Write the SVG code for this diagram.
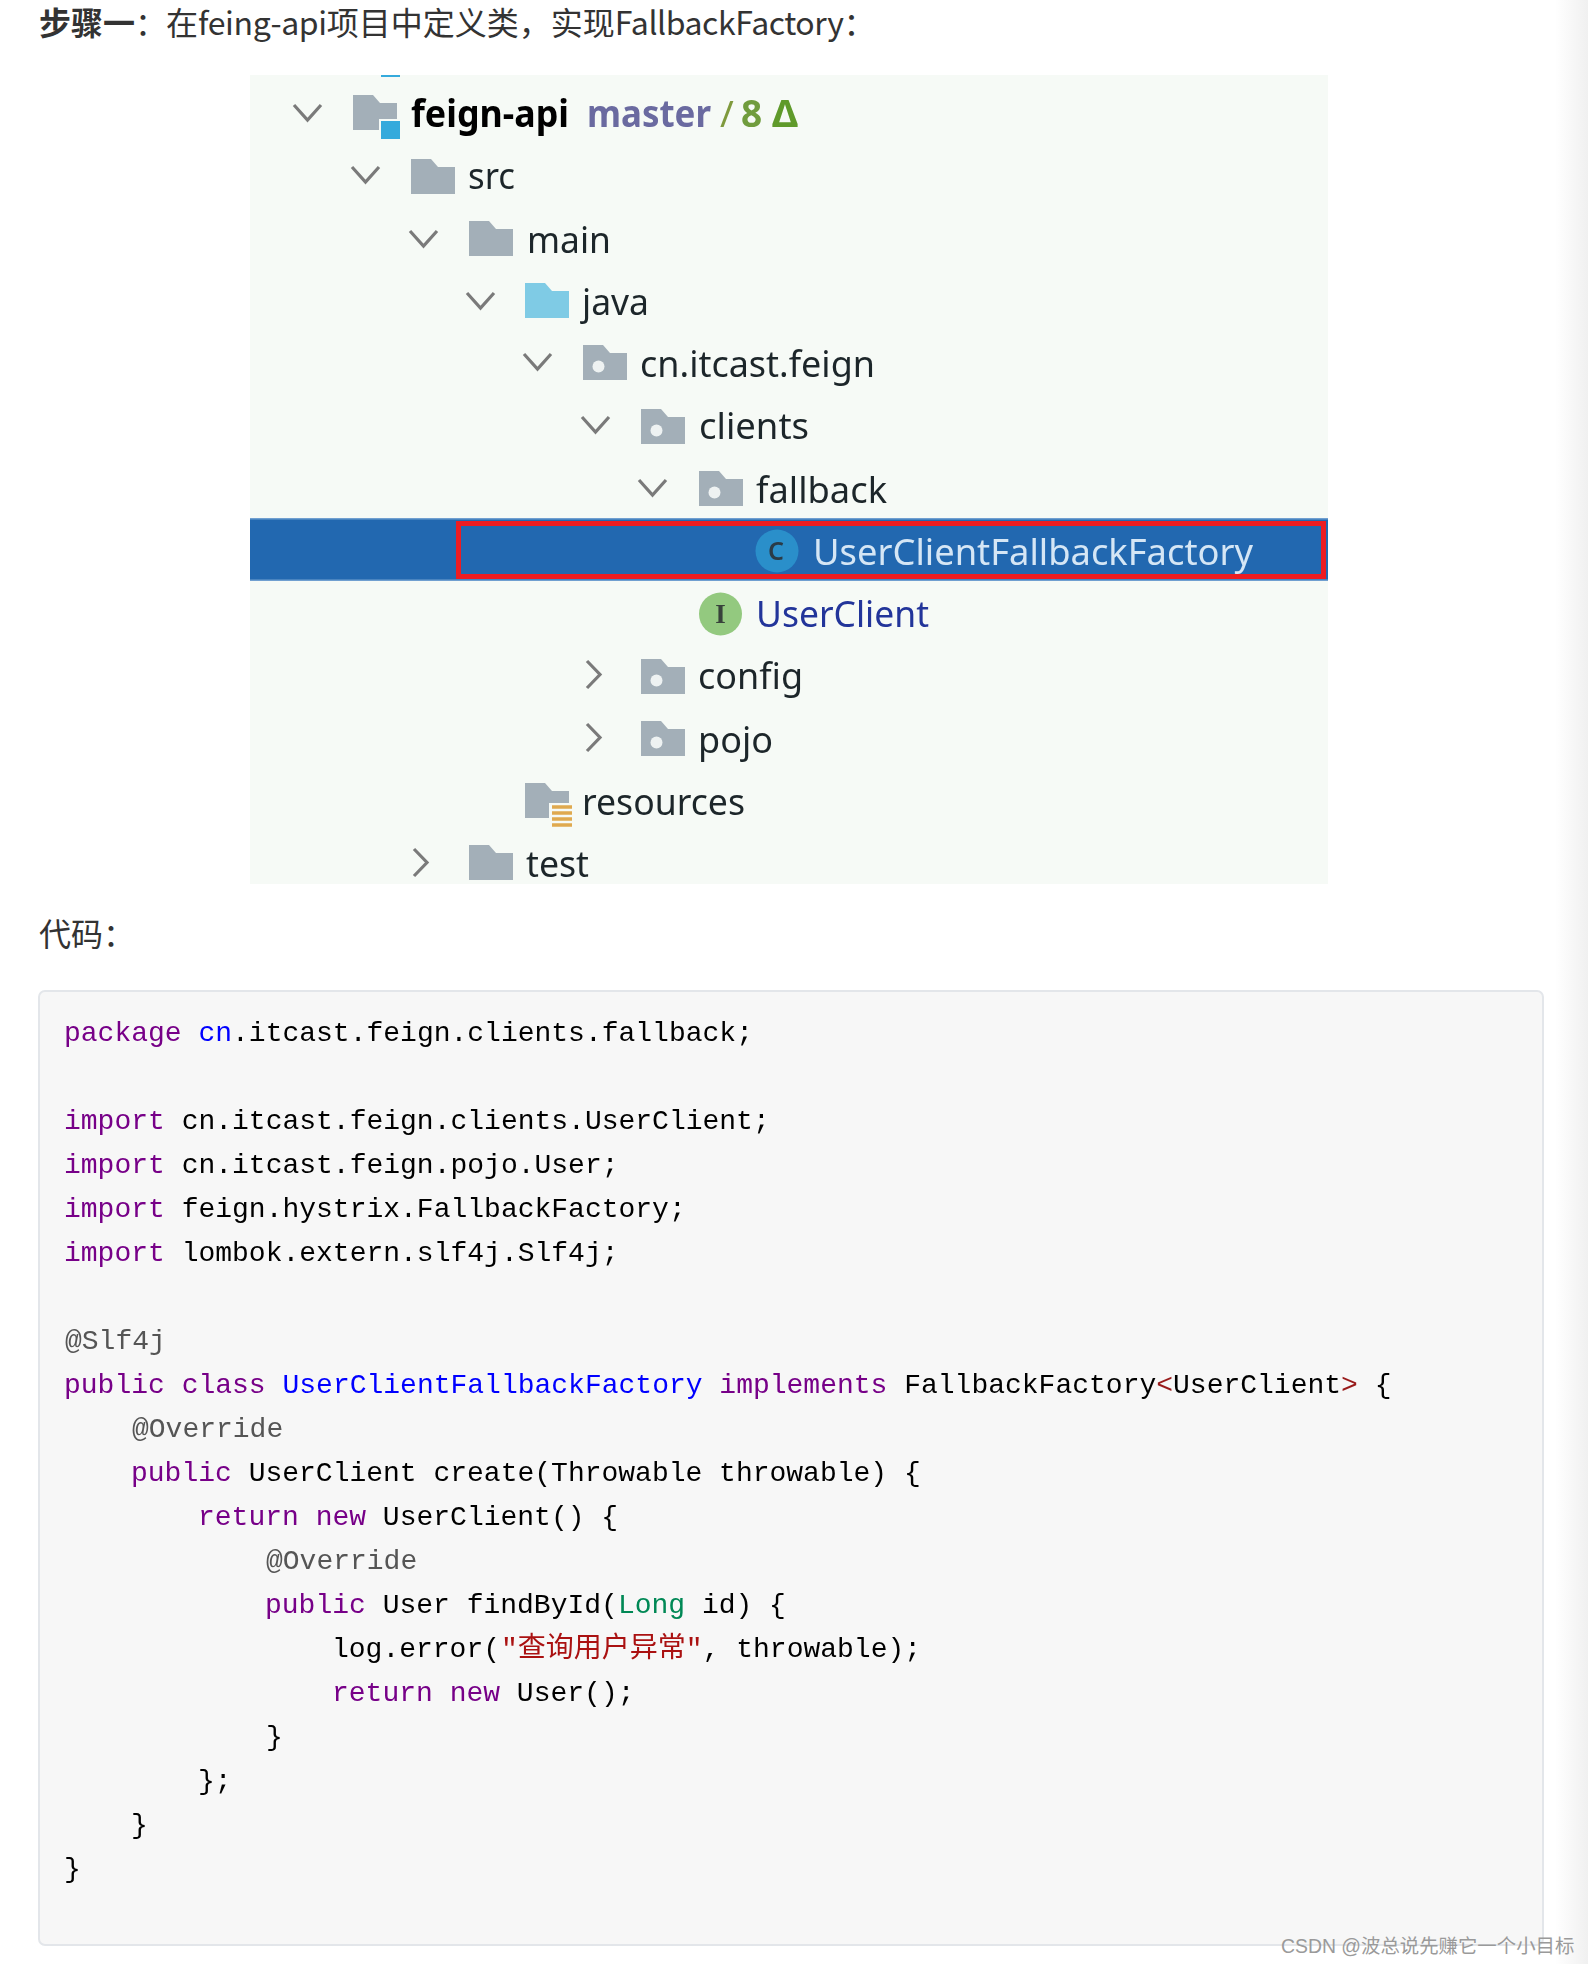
<svg xmlns="http://www.w3.org/2000/svg" width="1588" height="1964" viewBox="0 0 1588 1964">
<style>
.body{font-family:"Noto Sans CJK SC","Noto Sans",sans-serif;font-size:32px;fill:#333}
.tree{font-family:"Noto Sans","Open Sans",sans-serif;font-size:37px;fill:#1f272b}
.chev{fill:none;stroke:#7a7a7a;stroke-width:3.2}
.fold{fill:#a3afb8}
.dot{fill:#eef2f2}
.code{font-family:"Liberation Mono","Noto Sans CJK SC",monospace;font-size:28px;fill:#000;white-space:pre}
.k{fill:#770088}.d{fill:#0000ff}.t{fill:#008855}.s{fill:#aa1111}.m{fill:#555}.o{fill:#981a1a}
</style>
<defs>
<path id="folder" d="M0 0H20L27 8H44V35H0Z"/>
<path id="down" class="chev" d="M0 0L13.5 15L27 0"/>
<path id="right" class="chev" d="M0 0L13 13.5L0 27"/>
<g id="pkg"><use href="#folder" class="fold"/><circle class="dot" cx="15.500" cy="21.500" r="6"/></g>
<linearGradient id="edge" x1="0" x2="1" y1="0" y2="0"><stop offset="0" stop-color="#fff"/><stop offset="1" stop-color="#f0f0f0"/></linearGradient>
<filter id="soft" x="0" y="0" width="1" height="1"><feGaussianBlur stdDeviation="0.6"/></filter>
</defs>
<rect width="1588" height="1964" fill="#fff"/>
<rect x="1555" y="0" width="33" height="1964" fill="url(#edge)"/>
<text id="title" class="body" x="39" y="35"><tspan font-weight="700">步骤一</tspan>：<tspan dx="-1">在</tspan><tspan letter-spacing="-0.350">feing-api</tspan>项目中定义类，实现<tspan letter-spacing="-0.450">FallbackFactory</tspan>：</text>
<g id="tree" filter="url(#soft)">
<rect x="250" y="75" width="1078" height="809" fill="#f6faf6"/>
<rect x="381" y="75" width="19" height="2" fill="#35aadc"/>
<g id="row-feign-api">
<use href="#down" x="294" y="105"/>
<use href="#folder" x="353" y="95" class="fold"/>
<rect x="379" y="119" width="23" height="21" fill="#f6faf6"/>
<rect x="381" y="121" width="19" height="18" fill="#35aadc"/>
<text class="tree" x="411" y="127" font-weight="700" style="fill:#000" textLength="158" lengthAdjust="spacingAndGlyphs">feign-api</text>
<text class="tree" x="587" y="127" font-weight="700" style="fill:#6a6aa0" textLength="124" lengthAdjust="spacingAndGlyphs">master</text>
<text class="tree" x="720" y="127" style="fill:#7f9a3c">/</text>
<text class="tree" x="741" y="127" font-weight="700" style="fill:#6f9c3c">8</text>
<text class="tree" x="772" y="127" font-weight="700" style="fill:#5f9a2c" textLength="26" lengthAdjust="spacingAndGlyphs">Δ</text>
</g>
<g id="row-src"><use href="#down" x="352" y="167"/><use href="#folder" x="411" y="159" class="fold"/><text class="tree" x="468" y="189" textLength="47" lengthAdjust="spacingAndGlyphs">src</text></g>
<g id="row-main"><use href="#down" x="410" y="231"/><use href="#folder" x="469" y="221" class="fold"/><text class="tree" x="527" y="252.500" textLength="84" lengthAdjust="spacingAndGlyphs">main</text></g>
<g id="row-java"><use href="#down" x="467" y="293"/><use href="#folder" x="525" y="283" fill="#7fcbe5"/><text class="tree" x="582" y="314.500" textLength="67" lengthAdjust="spacingAndGlyphs">java</text></g>
<g id="row-cn"><use href="#down" x="524" y="354"/><use href="#pkg" x="583" y="345"/><text class="tree" x="640" y="377" textLength="235" lengthAdjust="spacingAndGlyphs">cn.itcast.feign</text></g>
<g id="row-clients"><use href="#down" x="582" y="417"/><use href="#pkg" x="641" y="409"/><text class="tree" x="699" y="439" textLength="110" lengthAdjust="spacingAndGlyphs">clients</text></g>
<g id="row-fallback"><use href="#down" x="639" y="480"/><use href="#pkg" x="699" y="471"/><text class="tree" x="756" y="503" textLength="131" lengthAdjust="spacingAndGlyphs">fallback</text></g>
<g id="row-factory">
<rect x="250" y="518" width="1078" height="63" fill="#2268b0"/>
<rect x="250" y="518" width="1078" height="1.500" fill="#6f9fd0"/>
<rect x="250" y="579.500" width="1078" height="1.500" fill="#6f9fd0"/>
<rect x="458.500" y="523.500" width="865" height="53" fill="none" stroke="#ed1c24" stroke-width="5"/>
<circle cx="777" cy="551" r="21.500" fill="#2a8fca"/>
<text x="776" y="560" text-anchor="middle" font-family="Noto Sans,sans-serif" font-size="25" font-weight="600" fill="#2b3b46">C</text>
<text class="tree" x="813" y="565" style="fill:#d5e6f5" textLength="440" lengthAdjust="spacingAndGlyphs">UserClientFallbackFactory</text>
</g>
<g id="row-userclient">
<circle cx="720.500" cy="614" r="21.500" fill="#93c97f"/>
<text x="720.500" y="623" text-anchor="middle" font-family="Liberation Serif,serif" font-size="27" font-weight="700" fill="#37433a">I</text>
<text class="tree" x="756" y="627" style="fill:#23349a" textLength="173" lengthAdjust="spacingAndGlyphs">UserClient</text>
</g>
<g id="row-config"><use href="#right" x="587" y="661"/><use href="#pkg" x="641" y="659"/><text class="tree" x="698" y="689" textLength="105" lengthAdjust="spacingAndGlyphs">config</text></g>
<g id="row-pojo"><use href="#right" x="587" y="724"/><use href="#pkg" x="641" y="721"/><text class="tree" x="698" y="752.500" textLength="75" lengthAdjust="spacingAndGlyphs">pojo</text></g>
<g id="row-resources">
<use href="#folder" x="525" y="783" class="fold"/>
<rect x="549" y="803" width="25" height="26" fill="#f6faf6"/>
<path d="M552 807h20M552 813h20M552 819h20M552 825h20" stroke="#dfa94f" stroke-width="3.600" fill="none"/>
<text class="tree" x="582" y="814.500" textLength="163" lengthAdjust="spacingAndGlyphs">resources</text>
</g>
<g id="row-test"><use href="#right" x="414" y="849"/><use href="#folder" x="469" y="845" class="fold"/><text class="tree" x="526" y="877" textLength="63" lengthAdjust="spacingAndGlyphs">test</text></g>
</g>
<text id="label-code" class="body" x="39" y="946">代码：</text>
<g id="code-block">
<rect x="39" y="991" width="1504" height="954" rx="6" fill="#f7f7f7" stroke="#e3e6ea" stroke-width="2"/>
<text class="code" xml:space="preserve" transform="translate(0 0.600)">
<tspan x="64" y="1040"><tspan class="k">package</tspan> <tspan class="d">cn</tspan>.itcast.feign.clients.fallback;</tspan>
<tspan x="64" y="1128"><tspan class="k">import</tspan> cn.itcast.feign.clients.UserClient;</tspan>
<tspan x="64" y="1172"><tspan class="k">import</tspan> cn.itcast.feign.pojo.User;</tspan>
<tspan x="64" y="1216"><tspan class="k">import</tspan> feign.hystrix.FallbackFactory;</tspan>
<tspan x="64" y="1260"><tspan class="k">import</tspan> lombok.extern.slf4j.Slf4j;</tspan>
<tspan x="65" y="1348" class="m">@Slf4j</tspan>
<tspan x="64" y="1392"><tspan class="k">public</tspan> <tspan class="k">class</tspan> <tspan class="d">UserClientFallbackFactory</tspan> <tspan class="k">implements</tspan> FallbackFactory<tspan class="o">&lt;</tspan>UserClient<tspan class="o">&gt;</tspan> {</tspan>
<tspan x="132" y="1436" class="m">@Override</tspan>
<tspan x="131" y="1480"><tspan class="k">public</tspan> UserClient create(Throwable throwable) {</tspan>
<tspan x="198" y="1524"><tspan class="k">return</tspan> <tspan class="k">new</tspan> UserClient() {</tspan>
<tspan x="266" y="1568" class="m">@Override</tspan>
<tspan x="265" y="1612"><tspan class="k">public</tspan> User findById(<tspan class="t">Long</tspan> id) {</tspan>
<tspan x="332" y="1656">log.error(<tspan class="s" dx="1">"查询用户异常"</tspan>, throwable);</tspan>
<tspan x="332" y="1700"><tspan class="k">return</tspan> <tspan class="k">new</tspan> User();</tspan>
<tspan x="266" y="1744">}</tspan>
<tspan x="198" y="1788">};</tspan>
<tspan x="131" y="1832">}</tspan>
<tspan x="64" y="1876">}</tspan>
</text>
</g>
<text id="watermark" x="1281" y="1953" font-family="Liberation Sans,Noto Sans CJK SC,sans-serif" font-size="19.400" fill="#9a9a9a">CSDN @波总说先赚它一个小目标</text>
</svg>
